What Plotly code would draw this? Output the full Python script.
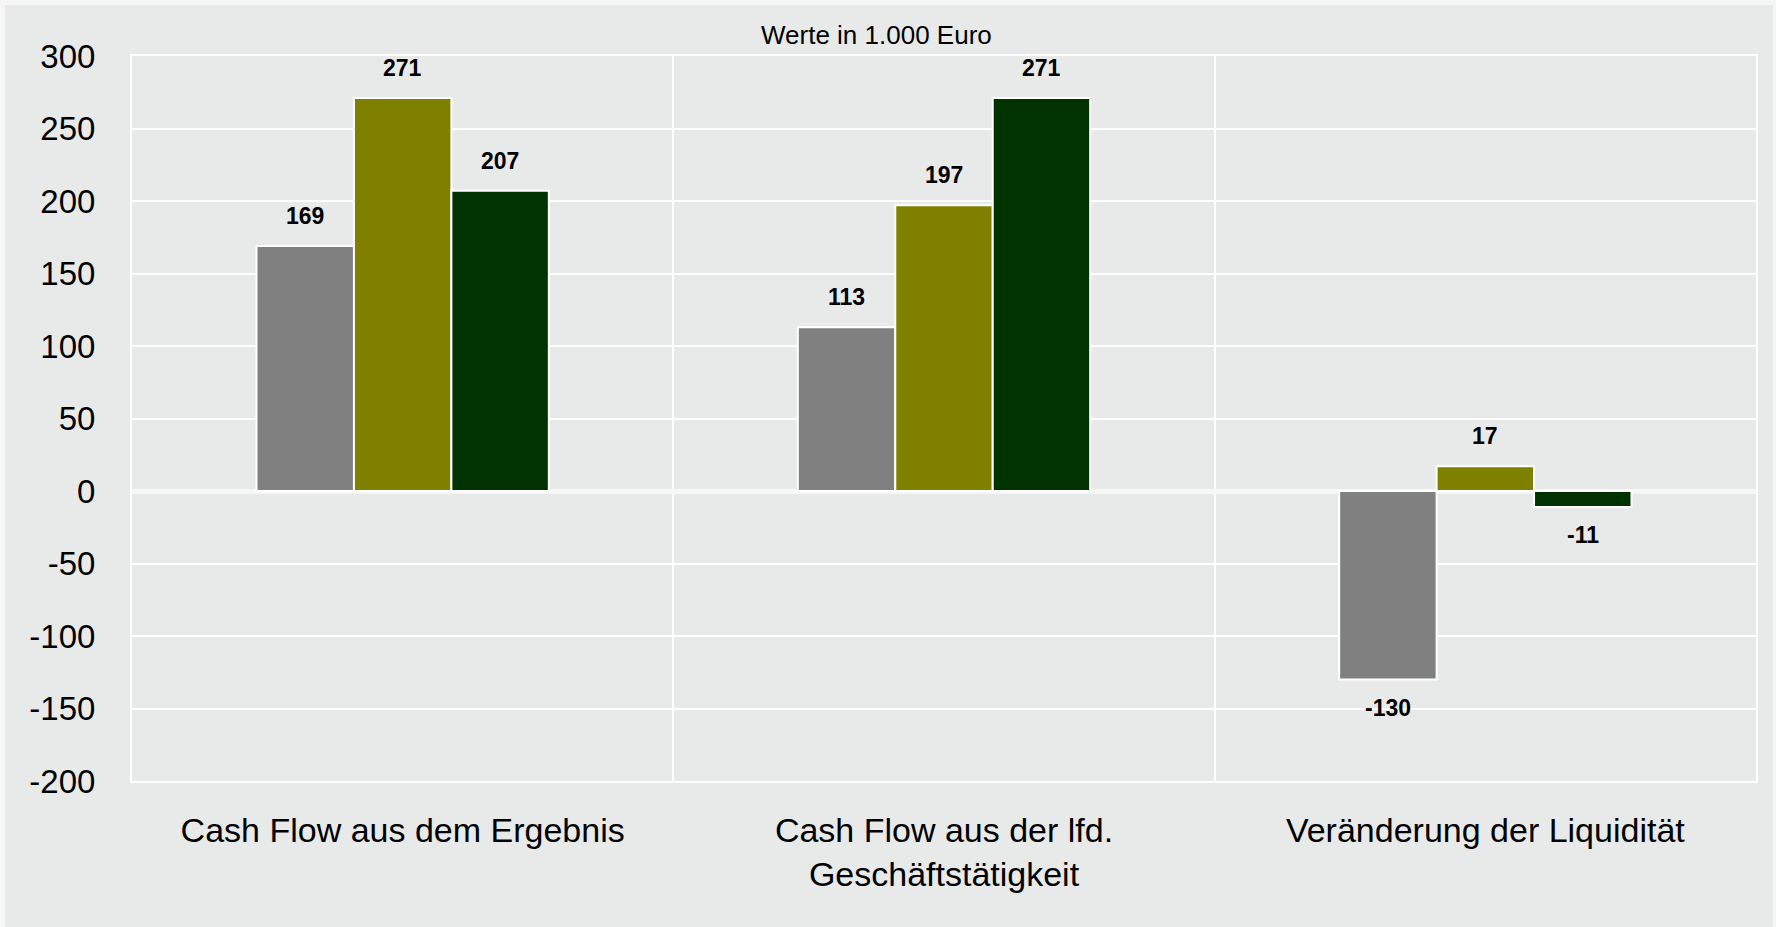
import plotly.graph_objects as go

categories = ["Cash Flow aus dem Ergebnis",
              "Cash Flow aus der lfd.<br>Geschäftstätigkeit",
              "Veränderung der Liquidität"]
series_names = ["Serie 1", "Serie 2", "Serie 3"]
series_values = [
    [169, 113, -130],
    [271, 197, 17],
    [207, 271, -11],
]
colors = ["#808080", "#808000", "#003300"]
y_ticks = [-200, -150, -100, -50, 0, 50, 100, 150, 200, 250, 300]
y_tick_labels = ["-200", "-150", "-100", "-50", "0", "50", "100", "150", "200", "250", "300"]
unit_note = "Werte in 1.000 Euro"

W, H = 1776, 927
ML, MR, MT, MB = 132, 20, 56, 146
BARGAP = 0.46
FONT = "Liberation Sans, Arial, sans-serif"
BG = "#e8eae9"
OUTER = "#f6f6f6"

fig = go.Figure()
for name, vals, col in zip(series_names, series_values, colors):
    fig.add_trace(go.Bar(
        x=categories, y=vals, name=name,
        marker=dict(color=col, line=dict(color="white", width=2)),
        showlegend=False, hoverinfo="skip",
    ))

plot_w = W - ML - MR
bar_px = plot_w / len(categories) * (1 - BARGAP) / len(series_values)
annotations = []
n = len(series_values)
for i, vals in enumerate(series_values):
    shift = (i - (n - 1) / 2) * bar_px
    for cat, v in zip(categories, vals):
        annotations.append(dict(
            x=cat, y=v, xref="x", yref="y", text=f"<b>{v}</b>",
            showarrow=False, xshift=shift, yshift=30 if v >= 0 else -28,
            yanchor="middle", xanchor="center",
            font=dict(family=FONT, size=23, color="black"),
        ))

plot_h = H - MT - MB
annotations.append(dict(
    text=unit_note, xref="paper", yref="paper",
    x=(876 - ML) / plot_w, y=(H - MB - 35) / plot_h,
    showarrow=False, xanchor="center", yanchor="middle",
    font=dict(family=FONT, size=26, color="black"),
))

fig.update_layout(
    width=W, height=H,
    margin=dict(l=ML, r=MR, t=MT, b=MB, pad=0),
    barmode="group", bargap=BARGAP, bargroupgap=0,
    paper_bgcolor=OUTER, plot_bgcolor=BG,
    font=dict(family=FONT, color="black"),
    annotations=annotations,
    shapes=[dict(
        type="rect", xref="paper", yref="paper", layer="below",
        x0=(5 - ML) / plot_w, x1=(1773 - ML) / plot_w,
        y0=(H - MB - 927) / plot_h, y1=(H - MB - 5) / plot_h,
        fillcolor=BG, line=dict(width=0),
    )],
    xaxis=dict(
        tickson="boundaries", showgrid=True, gridcolor="white", gridwidth=2,
        ticks="", showline=True, mirror=True, linecolor="white", linewidth=2,
        zeroline=False,
        tickfont=dict(family=FONT, size=34, color="black"),
        ticklabelstandoff=18,
    ),
    yaxis=dict(
        range=[-200, 300], tickvals=y_ticks, ticktext=y_tick_labels,
        showgrid=True, gridcolor="white", gridwidth=2, ticks="",
        showline=True, mirror=True, linecolor="white", linewidth=2,
        zeroline=True, zerolinecolor="#f7f7f7", zerolinewidth=5,
        tickfont=dict(family=FONT, size=33, color="black"),
        ticklabelstandoff=28,
    ),
)

fig.write_html("out.html", config={"displayModeBar": False},
               post_script="document.body.style.margin='0px';document.body.style.overflow='hidden';")
